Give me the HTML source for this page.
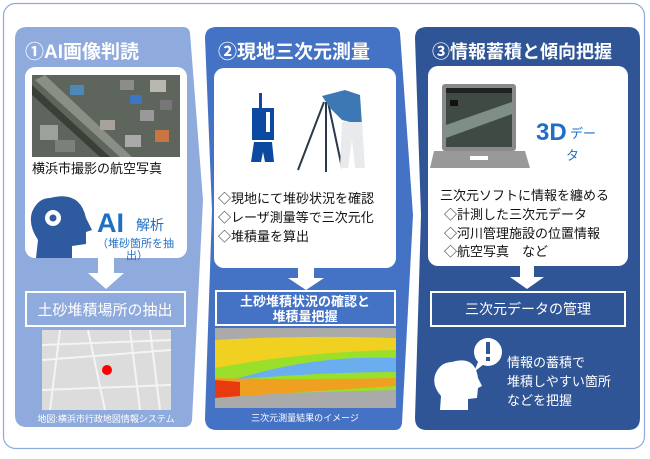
<!DOCTYPE html>
<html><head><meta charset="utf-8"><style>
body{margin:0;width:650px;height:454px;background:#fff;overflow:hidden}
svg text{font-family:"Liberation Sans","Noto Sans CJK JP",sans-serif}
</style></head><body>
<svg width="650" height="454" viewBox="0 0 650 454" xmlns="http://www.w3.org/2000/svg">
<rect x="3.5" y="3.5" width="641" height="445" rx="12" fill="#fff" stroke="#8faadc" stroke-width="1.2"/>
<path d="M27,27 H183 Q189,27 190,33 L203,200 L192,420 Q191,427 184,427 H27 Q15,427 15,415 V39 Q15,27 27,27Z" fill="#8faadc"/>
<path d="M217,27 H393 Q399,27 400,33 L413,215 L402,423 Q401,430 395,430 H217 Q205,430 205,418 L212,210 L205,38 Q205,27 217,27Z" fill="#4472c4"/>
<path d="M427,27 H628 Q640,27 640,39 V418 Q640,430 628,430 H427 Q415,430 415,418 L421,215 L415,38 Q415,27 427,27Z" fill="#2f5597"/>
<text x="25" y="58" font-size="19" font-weight="bold" fill="#fff">①AI画像判読</text>
<text x="218" y="58" font-size="19" font-weight="bold" fill="#fff">②現地三次元測量</text>
<text x="432" y="58" font-size="18" font-weight="bold" fill="#fff">③情報蓄積と傾向把握</text>
<rect x="25" y="67" width="162" height="191" rx="10" fill="#fff"/>
<rect x="32" y="75" width="148" height="82" fill="#5e655c"/>
<path d="M35,80 L120,157 L132,157 L45,75Z" fill="#8a8f85"/>
<path d="M32,95 L100,157 L110,157 L32,85Z" fill="#3a3f38"/>
<rect x="70" y="85" width="14" height="10" fill="#4d88b8"/><rect x="130" y="95" width="12" height="9" fill="#3d74c4"/><rect x="150" y="80" width="16" height="12" fill="#b9b7b0"/><rect x="100" y="120" width="15" height="10" fill="#a7a39c"/><rect x="40" y="125" width="18" height="15" fill="#9ca29a"/><rect x="155" y="130" width="14" height="12" fill="#c87444"/>
<rect x="120" y="80" width="14" height="10" fill="#8c8c88"/><rect x="140" y="110" width="14" height="11" fill="#999"/><rect x="160" y="100" width="12" height="10" fill="#777"/><rect x="125" y="135" width="16" height="12" fill="#aaa"/><rect x="55" y="140" width="20" height="12" fill="#7a807a"/>
<text x="32" y="173" font-size="13" fill="#111">横浜市撮影の航空写真</text>
<path d="M50,198 Q80,190 86,218 L92,230 L86,232 L86,244 L72,246 L72,258 L36,258 L38,240 Q28,225 32,212 Q38,198 50,198Z" fill="#2e5aa0"/>
<circle cx="53" cy="218" r="8" fill="#fff"/><circle cx="53" cy="218" r="3.5" fill="#2e5aa0"/>
<text x="97" y="232" font-size="27" font-weight="bold" fill="#1f6fc5">AI</text>
<text x="136" y="230" font-size="14" fill="#1f6fc5">解析</text>
<text x="97" y="247" font-size="11" fill="#1f6fc5">（堆砂箇所を抽</text>
<text x="126" y="259" font-size="11" fill="#1f6fc5">出）</text>
<path d="M98,258 H114 V273 H124 L106,289 L88,273 H98Z" fill="#fff"/>
<rect x="26" y="292" width="159" height="34" fill="none" stroke="#fff" stroke-width="2"/>
<text x="105" y="315" font-size="15" fill="#fff" text-anchor="middle">土砂堆積場所の抽出</text>
<rect x="42" y="330" width="129" height="80" fill="#dcdcdc"/>
<path d="M88,330 L105,410 M42,360 L171,350 M60,330 L50,410 M130,330 L140,410 M42,390 L171,385 M150,330 L160,410 M42,345 L171,340" stroke="#f4f4f4" stroke-width="2"/>
<circle cx="107" cy="370" r="5" fill="#f00"/>
<text x="106" y="422" font-size="9" fill="#fff" text-anchor="middle">地図:横浜市行政地図情報システム</text>
<rect x="214" y="68" width="182" height="200" rx="10" fill="#fff"/>
<rect x="259" y="93" width="3" height="15" fill="#0b4aa0"/>
<rect x="252" y="108" width="22" height="32" fill="#0b4aa0"/>
<rect x="266" y="112" width="4" height="20" fill="#fff"/>
<path d="M254,142 H272 L274,162 H265 L263,152 L261,162 H251Z" fill="#0b4aa0"/>
<path d="M324,102 L298,170 M326,102 L326,172 M328,102 L342,168" stroke="#2a3a4a" stroke-width="2"/>
<path d="M322,96 L345,90 L360,95 L362,125 L342,120 L330,108Z" fill="#3d78b5"/>
<path d="M342,122 H362 L365,168 H355 L352,140 L348,168 H340Z" fill="#e8eaec"/>
<text x="218" y="203" font-size="13" fill="#111">◇現地にて堆砂状況を確認</text>
<text x="218" y="222" font-size="13" fill="#111">◇レーザ測量等で三次元化</text>
<text x="218" y="241" font-size="13" fill="#111">◇堆積量を算出</text>
<path d="M298,268 H314 V278 H324 L306,290 L288,278 H298Z" fill="#fff"/>
<rect x="216" y="291" width="179" height="34" fill="none" stroke="#fff" stroke-width="2"/>
<text x="305" y="306" font-size="13" font-weight="bold" fill="#fff" text-anchor="middle">土砂堆積状況の確認と</text>
<text x="305" y="321" font-size="13" font-weight="bold" fill="#fff" text-anchor="middle">堆積量把握</text>
<rect x="215" y="328" width="181" height="80" fill="#aaaaaa"/>
<path d="M215,340 L396,338 V390 L215,395Z" fill="#9ae02a"/>
<path d="M215,340 Q300,335 396,338 V350 Q300,352 215,368Z" fill="#f0d020"/>
<path d="M250,375 Q320,355 396,358 V372 Q320,372 230,380Z" fill="#6aaef0"/>
<path d="M215,378 Q300,380 396,378 V386 Q300,392 215,398Z" fill="#f0a020"/>
<path d="M215,380 L240,382 L240,396 L215,398Z" fill="#e83a10"/>
<text x="305" y="421" font-size="9" fill="#fff" text-anchor="middle">三次元測量結果のイメージ</text>
<rect x="428" y="66" width="200" height="200" rx="10" fill="#fff"/>
<rect x="442" y="84" width="74" height="67" rx="3" fill="#8a8a8a"/>
<rect x="446" y="88" width="66" height="59" fill="#3f4a44"/>
<rect x="446" y="88" width="66" height="5" fill="#1e2422"/>
<path d="M446,125 L512,102 V114 L446,138Z" fill="#7f8f86"/>
<rect x="450" y="100" width="8" height="6" fill="#111"/>
<path d="M434,151 H525 L530,168 H430Z" fill="#999"/>
<rect x="470" y="156" width="18" height="4" fill="#fff"/>
<text x="536" y="140" font-size="24" font-weight="bold" fill="#1f6fc5">3D</text>
<text x="570" y="138" font-size="13" fill="#1f6fc5">デー</text>
<text x="566" y="160" font-size="13" fill="#1f6fc5">タ</text>
<text x="440" y="200" font-size="13" fill="#111">三次元ソフトに情報を纏める</text>
<text x="444" y="219" font-size="13" fill="#111">◇計測した三次元データ</text>
<text x="444" y="238" font-size="13" fill="#111">◇河川管理施設の位置情報</text>
<text x="444" y="256" font-size="13" fill="#111">◇航空写真　など</text>
<path d="M520,266 H534 V277 H544 L527,289 L510,277 H520Z" fill="#fff"/>
<rect x="431" y="292" width="194" height="34" fill="none" stroke="#fff" stroke-width="2"/>
<text x="528" y="314" font-size="14" fill="#fff" text-anchor="middle">三次元データの管理</text>
<path d="M452,362 Q475,355 478,378 L482,386 L478,388 L477,398 L468,399 L468,410 L440,410 L441,396 Q432,386 435,375 Q440,362 452,362Z" fill="#fff"/>
<circle cx="488" cy="352" r="14" fill="#fff"/><path d="M478,362 L474,372 L484,364Z" fill="#fff"/>
<rect x="486" y="342" width="4" height="12" fill="#2f5597"/><rect x="486" y="357" width="4" height="4" fill="#2f5597"/>
<text x="507" y="367" font-size="13" fill="#fff">情報の蓄積で</text>
<text x="507" y="386" font-size="13" fill="#fff">堆積しやすい箇所</text>
<text x="507" y="405" font-size="13" fill="#fff">などを把握</text>
</svg>
</body></html>
